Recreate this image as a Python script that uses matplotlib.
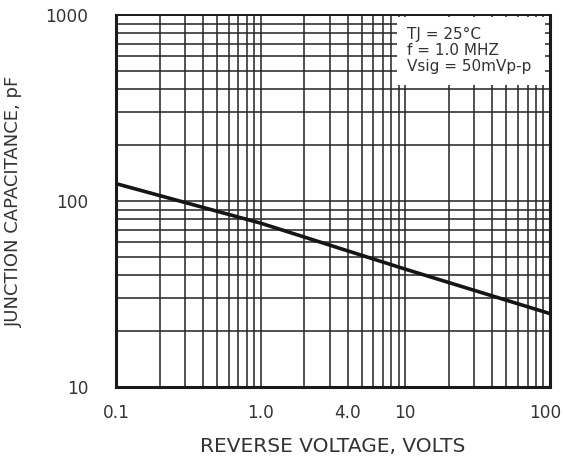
import matplotlib
matplotlib.use("Agg")
import matplotlib.pyplot as plt
import matplotlib.transforms as mtransforms
from matplotlib.ticker import FixedLocator, NullFormatter
from matplotlib.patches import Rectangle

plt.rcParams['font.family'] = ['DejaVu Sans']

voltage = [0.1, 1.0, 10, 100]
capacitance = [124, 76, 43, 24.8]

xtick_vals = [0.1, 1.0, 4.0, 10, 100]
xtick_labels = ["0.1", "1.0", "4.0", "10", "100"]
ytick_vals = [10, 100, 1000]
ytick_labels = ["10", "100", "1000"]
note_lines = ["TJ = 25°C", "f = 1.0 MHZ", "Vsig = 50mVp-p"]

fig = plt.figure(figsize=(5.63, 4.57), dpi=100)
ax = fig.add_axes([116/563, 1 - 387/457, (550-116)/563, (387-15)/457])
ax.set_xscale('log')
ax.set_yscale('log')
ax.set_xlim(0.1, 100)
ax.set_ylim(10, 1000)

ax.grid(True, which='both', color='#2a2a2a', linewidth=1.15)
ax.set_axisbelow(True)

ax.plot(voltage, capacitance, color='#151515', linewidth=2.6, zorder=3)

ax.xaxis.set_major_locator(FixedLocator(xtick_vals))
ax.set_xticklabels(xtick_labels)
ax.yaxis.set_major_locator(FixedLocator(ytick_vals))
ax.set_yticklabels(ytick_labels)
ax.xaxis.set_minor_formatter(NullFormatter())
ax.yaxis.set_minor_formatter(NullFormatter())
ax.tick_params(which='both', length=0, labelsize=12.2, colors='#333333')
ax.tick_params(axis='y', pad=20)
ax.tick_params(axis='x', pad=12)

for s in ax.spines.values():
    s.set_linewidth(2.2)
    s.set_color('#1a1a1a')
ax.spines['top'].set_linewidth(1.4)

ax.set_xlabel("REVERSE VOLTAGE, VOLTS", fontsize=14.5, color='#333333', labelpad=11)
ax.set_ylabel("JUNCTION CAPACITANCE, pF", fontsize=13, color='#333333', labelpad=16)

ax.add_patch(Rectangle((0.647, 0.812), 0.341, 0.183, transform=ax.transAxes,
                       facecolor='white', edgecolor='none', zorder=4))
for i, line in enumerate(note_lines):
    ax.text(0.670, 0.935 - i * 0.043, line, transform=ax.transAxes,
            ha='left', va='baseline', fontsize=11, color='#333333', zorder=5)

fig.canvas.draw()
last = ax.get_xticklabels()[-1]
last.set_transform(last.get_transform() +
                   mtransforms.ScaledTranslation(-5/100, 0, fig.dpi_scale_trans))

fig.savefig("out.png", dpi=100)
